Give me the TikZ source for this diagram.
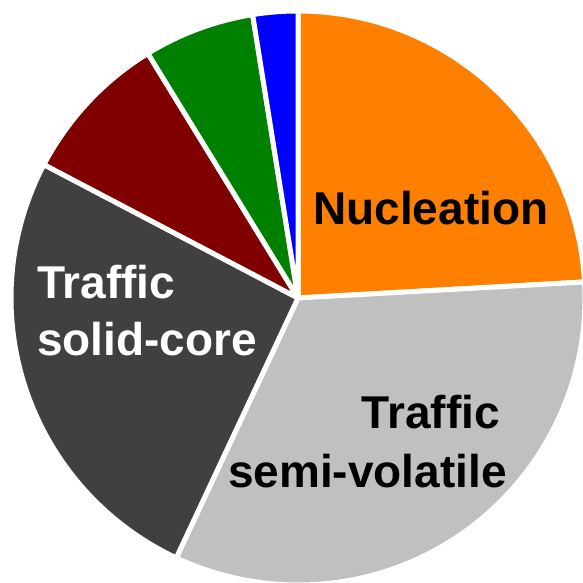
\documentclass[tikz,border=0pt]{standalone}
\usepackage{fontspec}
\setmainfont{Liberation Sans}
\definecolor{cOrange}{HTML}{FF8000}
\definecolor{cGrey}{HTML}{C0C0C0}
\definecolor{cDark}{HTML}{404040}
\definecolor{cRed}{HTML}{800000}
\definecolor{cGreen}{HTML}{008000}
\definecolor{cBlue}{HTML}{0000FF}
\tikzset{
  slice/.style={draw=white, line width=5pt, line join=round},
  lbl/.style={inner sep=0pt, font=\fontsize{46}{56}\selectfont\bfseries},
}
\newcommand{\pieslice}[3]{%
  \path[slice, fill=#3] (ctr) -- ++(#1:287) arc[start angle=#1, end angle=#2, radius=287] -- cycle;}
\begin{document}
\begin{tikzpicture}[x=1pt,y=1pt]
\useasboundingbox (0,0) rectangle (582,583);
\coordinate (ctr) at (298,285);
\pieslice{90}{3.2}{cOrange}
\pieslice{3.2}{-115.1}{cGrey}
\pieslice{244.9}{152.3}{cDark}
\pieslice{152.3}{121.55}{cRed}
\pieslice{121.55}{99.1}{cGreen}
\pieslice{99.1}{90}{cBlue}
\node[lbl, anchor=base west] (nuc) at (313,583-225) {Nucleation};
\node[lbl, anchor=base east, text=black] (sv1) at (500,583-429) {Traffic};
\node[lbl, anchor=base east, text=black] (sv2) at (507,583-488) {semi-volatile};
\node[lbl, anchor=base west, text=white] (sc1) at (37,583-299) {Traffic};
\node[lbl, anchor=base west, text=white] (sc2) at (37,583-356) {solid-core};
\end{tikzpicture}
\end{document}
